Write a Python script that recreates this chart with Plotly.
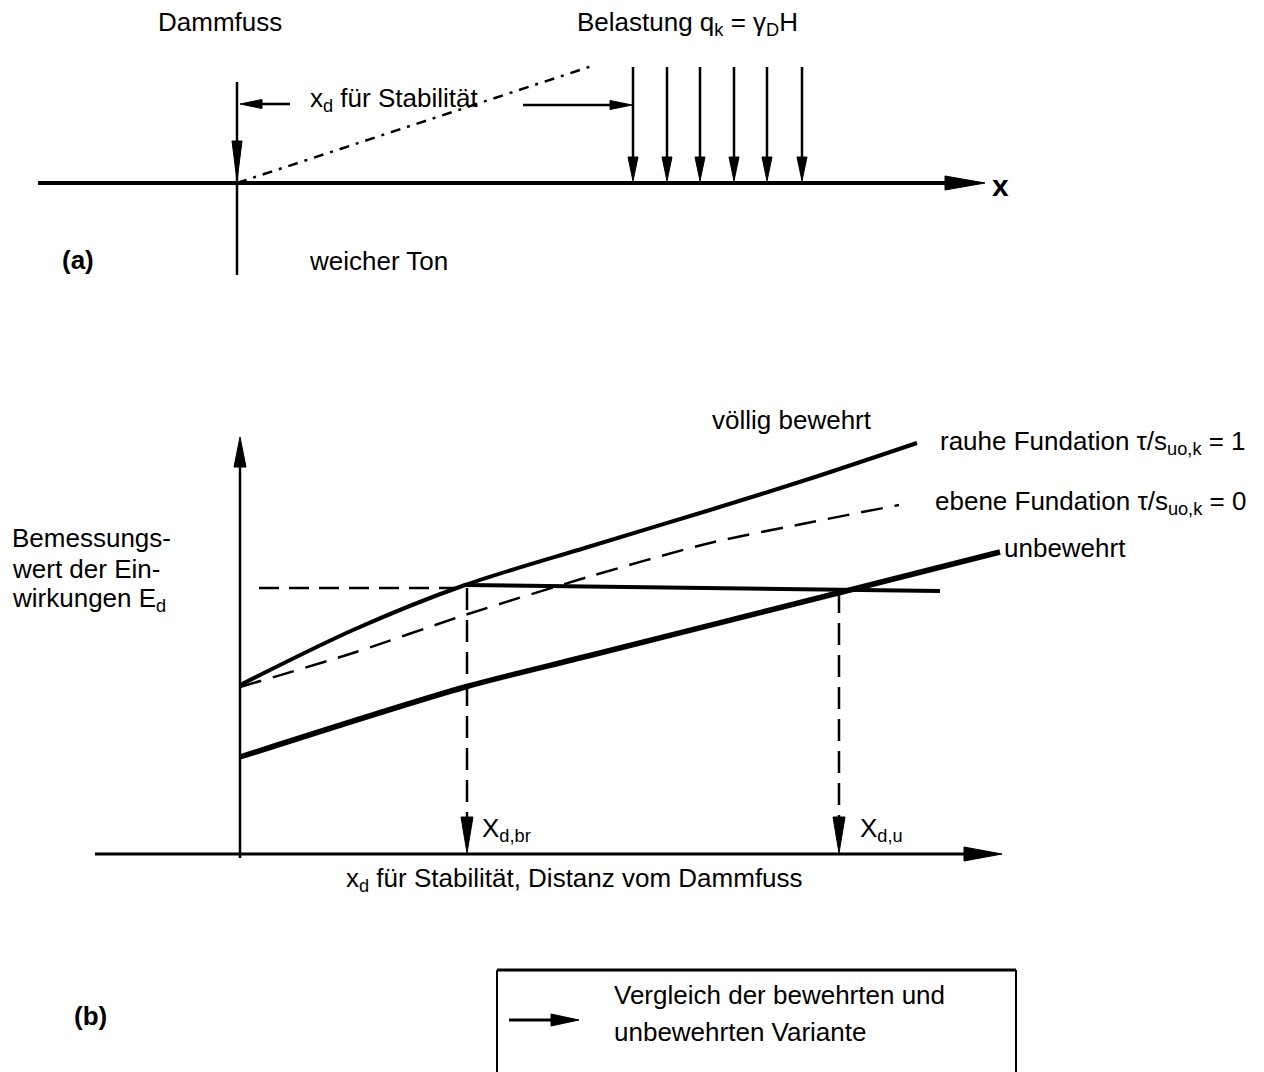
import plotly.graph_objects as go

# ================= DATA =================
# Panel (b): x_d = distance from toe of embankment, E_d = design action
x_rauhe = [0.0, 1.13, 2.25, 3.48, 4.70, 5.72, 6.77]
E_rauhe = [1.69, 2.24, 2.69, 3.07, 3.44, 3.76, 4.11]
x_ebene = [0.0, 1.13, 2.25, 3.48, 4.70, 5.72, 6.59]
E_ebene = [1.67, 2.01, 2.39, 2.77, 3.11, 3.32, 3.49]
x_unbew = [0.0, 2.25, 3.48, 5.98, 7.60]
E_unbew = [0.97, 1.67, 1.98, 2.61, 3.02]
E_design = 2.66
x_level_dash = [0.19, 2.25]
x_level_solid = [2.25, 7.00]
E_level_solid = [2.69, 2.63]
x_d_br = 2.27
x_d_u = 5.99
x_axis_b = [-1.45, 7.62]
y_axis_b = [-0.04, 4.17]

# Panel (a): toe, ground, slope and load
x_ground = [-1.99, 7.48]
toe_y = [1.01, -0.92]
slope_x = [0.0, 3.55]
slope_y = [0.0, 1.17]
load_x = [3.96, 4.30, 4.63, 4.97, 5.30, 5.65]
load_top = 1.16
dim_left_x = [0.53, 0.03]
dim_right_x = [2.86, 3.95]
dim_y = 0.79

# ================= LAYOUT CONSTANTS =================
W, H = 1264, 1072
PAGE_OFF = 0           # body margin removed via post_script below
PPU = 100.0            # pixels per unit in both panels
A_ORIGIN = (237, 183)  # screen pixel of panel (a) origin
B_ORIGIN = (240, 854)  # screen pixel of panel (b) origin
FONT = "Liberation Sans, Arial, sans-serif"
FS = 26
K = "black"


def rng(origin):
    ox, oy = origin
    x0 = (PAGE_OFF - ox) / PPU
    y1 = (oy - PAGE_OFF) / PPU
    return [x0, x0 + W / PPU], [y1 - H / PPU, y1]


xa_rng, ya_rng = rng(A_ORIGIN)
xb_rng, yb_rng = rng(B_ORIGIN)

fig = go.Figure()
shapes = []
annotations = []


def refs(ax):
    return ("x", "y") if ax == "a" else ("x2", "y2")


def line(x, y, ax, width, dash="solid", spline=False):
    xr, yr = refs(ax)
    fig.add_trace(go.Scatter(
        x=x, y=y, mode="lines", xaxis=xr, yaxis=yr, hoverinfo="skip",
        showlegend=False,
        line=dict(color=K, width=width, dash=dash,
                  shape="spline" if spline else "linear", smoothing=0.8)))


def head(xt, yt, dx, dy, L, Wd, ax):
    """filled arrowhead: tip (xt,yt), direction (dx,dy), length/half-width in px"""
    n = (dx * dx + dy * dy) ** 0.5
    dx, dy = dx / n, dy / n
    bx, by = xt - dx * L / PPU, yt - dy * L / PPU
    px, py = -dy * Wd / PPU, dx * Wd / PPU
    xr, yr = refs(ax)
    shapes.append(dict(
        type="path", xref=xr, yref=yr,
        path=f"M{xt},{yt} L{bx+px},{by+py} L{bx-px},{by-py} Z",
        fillcolor=K, line=dict(color=K, width=1)))


def text(x, y, t, ax, xanchor="left", size=FS, bold=False):
    xr, yr = refs(ax)
    annotations.append(dict(
        x=x, y=y, xref=xr, yref=yr, text=f"<b>{t}</b>" if bold else t,
        showarrow=False, xanchor=xanchor, yanchor="middle",
        font=dict(family=FONT, size=size, color=K)))


# ================= PANEL (a) =================
line([x_ground[0], x_ground[1] - 0.3], [0, 0], "a", 4)
head(x_ground[1], 0, 1, 0, 40, 7, "a")
line([0, 0], toe_y, "a", 2.5)
head(0, 0.02, 0, -1, 40, 5, "a")
line(slope_x, slope_y, "a", 2.5, dash="10px,7px,3px,7px")
for lx in load_x:
    line([lx, lx], [load_top, 0.15], "a", 2.5)
    head(lx, 0.02, 0, -1, 24, 5, "a")
line([dim_left_x[0], dim_left_x[1] + 0.15], [dim_y, dim_y], "a", 2.5)
head(dim_left_x[1], dim_y, -1, 0, 22, 4.5, "a")
line([dim_right_x[0], dim_right_x[1] - 0.15], [dim_y - 0.01, dim_y - 0.01], "a", 2.5)
head(dim_right_x[1], dim_y - 0.01, 1, 0, 22, 4.5, "a")

text(-0.17, 1.61, "Dammfuss", "a", "center")
text(4.50, 1.60, "Belastung q<sub>k</sub> = γ<sub>D</sub>H", "a", "center")
text(1.57, 0.84, "x<sub>d</sub> für Stabilität", "a", "center")
text(1.41, -0.78, "weicher Ton", "a", "center")
text(-1.59, -0.77, "(a)", "a", "center", bold=True)
text(7.63, -0.02, "x", "a", "center", size=30, bold=True)

# ================= PANEL (b) =================
line([x_axis_b[0], x_axis_b[1] - 0.3], [0, 0], "b", 3)
head(x_axis_b[1], 0, 1, 0, 38, 7, "b")
line([0, 0], [y_axis_b[0], y_axis_b[1] - 0.25], "b", 2.5)
head(0, y_axis_b[1], 0, 1, 30, 6, "b")

line(x_rauhe, E_rauhe, "b", 4, spline=True)
line(x_ebene, E_ebene, "b", 2.5, dash="22px,12px", spline=True)
line(x_unbew, E_unbew, "b", 5.5, spline=True)
line(x_level_dash, [E_design, E_design], "b", 2.5, dash="20px,10px")
line(x_level_solid, E_level_solid, "b", 4)

for xv, yv in [(x_d_br, E_design), (x_d_u, E_level_solid[1])]:
    line([xv, xv], [yv, 0.3], "b", 2.5, dash="22px,10px")
    head(xv, 0.01, 0, -1, 36, 6, "b")

text(4.70, 4.34, "völlig bewehrt", "b")
text(6.98, 4.12, "rauhe Fundation τ/s<sub>uo,k</sub> = 1", "b")
text(6.93, 3.52, "ebene Fundation τ/s<sub>uo,k</sub> = 0", "b")
text(7.62, 3.06, "unbewehrt", "b")
text(2.40, 0.25, "X<sub>d,br</sub>", "b")
text(6.18, 0.25, "X<sub>d,u</sub>", "b")
text(3.34, -0.25, "x<sub>d</sub> für Stabilität, Distanz vom Dammfuss", "b", "center")
text(-2.30, 3.16, "Bemessungs-", "b")
text(-2.30, 2.85, "wert der Ein-", "b")
text(-2.30, 2.55, "wirkungen E<sub>d</sub>", "b")
text(-1.50, -1.62, "(b)", "b", "center", bold=True)

# legend box
box_l, box_r, box_t, box_b = 2.57, 7.76, -1.16, -2.40
shapes.append(dict(type="line", xref="x2", yref="y2", x0=box_l, x1=box_r,
                   y0=box_t, y1=box_t, line=dict(color=K, width=3)))
for bx in (box_l, box_r):
    shapes.append(dict(type="line", xref="x2", yref="y2", x0=bx, x1=bx,
                       y0=box_t, y1=box_b, line=dict(color=K, width=2)))
line([2.69, 3.15], [-1.66, -1.66], "b", 3)
head(3.39, -1.66, 1, 0, 28, 6, "b")
text(3.72, -1.41, "Vergleich der bewehrten und", "b")
text(3.72, -1.78, "unbewehrten Variante", "b")

ax_common = dict(visible=False, showgrid=False, zeroline=False, fixedrange=True)
fig.update_layout(
    width=W, height=H, margin=dict(l=0, r=0, t=0, b=0),
    paper_bgcolor="white", plot_bgcolor="rgba(0,0,0,0)",
    xaxis=dict(range=xa_rng, domain=[0, 1], anchor="y", **ax_common),
    yaxis=dict(range=ya_rng, domain=[0, 1], anchor="x", **ax_common),
    xaxis2=dict(range=xb_rng, anchor="y2", overlaying="x", **ax_common),
    yaxis2=dict(range=yb_rng, anchor="x2", overlaying="y", **ax_common),
    shapes=shapes, annotations=annotations, showlegend=False,
)

fig.write_html("out.html",
               config={"displayModeBar": False, "staticPlot": True},
               post_script="document.body.style.margin='0';"
                           "document.body.style.overflow='hidden';")
